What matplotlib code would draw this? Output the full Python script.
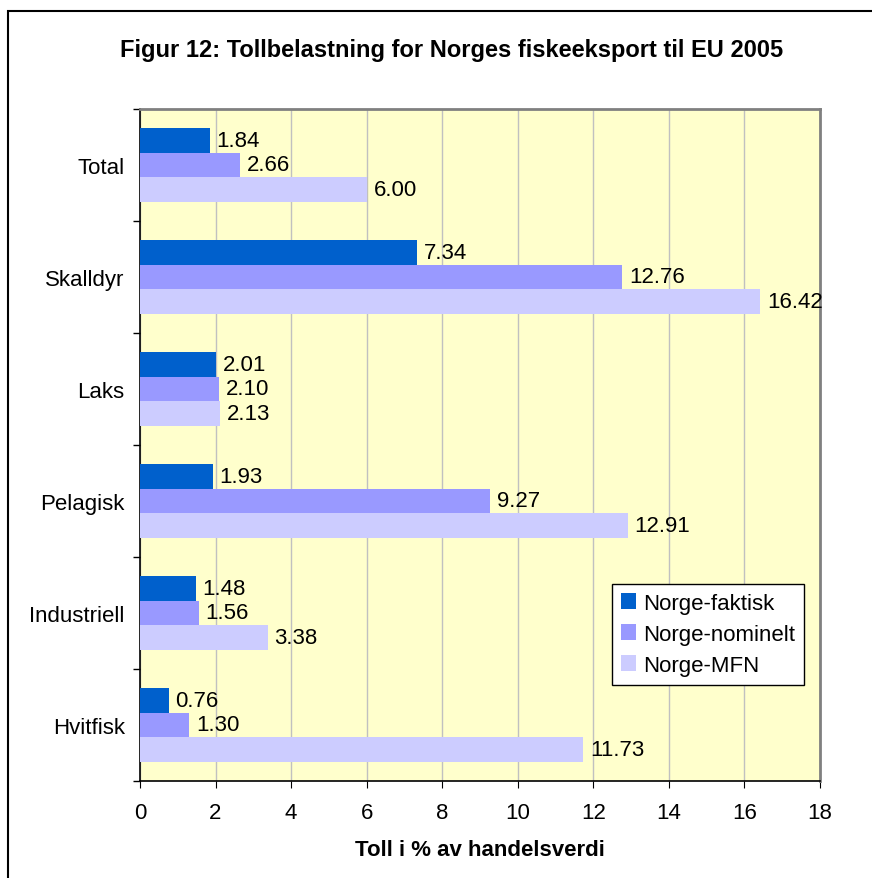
import matplotlib.pyplot as plt
import numpy as np
from matplotlib.patches import Rectangle

plt.rcParams['font.family'] = ['Liberation Sans', 'DejaVu Sans']

categories = ['Total', 'Skalldyr', 'Laks', 'Pelagisk', 'Industriell', 'Hvitfisk']
faktisk = [1.84, 7.34, 2.01, 1.93, 1.48, 0.76]
nominelt = [2.66, 12.76, 2.10, 9.27, 1.56, 1.30]
mfn = [6.00, 16.42, 2.13, 12.91, 3.38, 11.73]
series = [('Norge-faktisk', faktisk, '#0060CC'),
          ('Norge-nominelt', nominelt, '#9999FF'),
          ('Norge-MFN', mfn, '#CCCCFF')]

fs = 16

fig = plt.figure(figsize=(8.72, 8.79), dpi=100)
ax = fig.add_axes([140/872, 1 - 782/879, 680/872, 672/879])
ax.set_facecolor('#FFFFCC')

# outer chart border (runs off the right and bottom edge)
fig.patches.append(Rectangle((8/872, -0.05), 1.0, 1 - 12/879 + 0.05,
                             transform=fig.transFigure, fill=False,
                             edgecolor='black', linewidth=1.5))

y = np.arange(len(categories))
h = 0.223
for i, (name, vals, col) in enumerate(series):
    pos = y + (i - 1) * h
    ax.barh(pos, vals, height=h, color=col, label=name, zorder=3)
    for p, v in zip(pos, vals):
        ax.text(v + 0.18, p, f'{v:.2f}', va='center', ha='left', fontsize=fs, zorder=4)

ax.set_xlim(0, 18)
ax.set_ylim(len(categories) - 0.5, -0.5)
ax.set_xticks(np.arange(0, 19, 2))
ax.set_yticks(y)
ax.set_yticklabels(categories, fontsize=fs)
ax.set_yticks(np.arange(-0.5, len(categories), 1), minor=True)
ax.tick_params(axis='y', which='major', length=0, pad=11)
ax.tick_params(axis='y', which='minor', length=5, width=1, direction='out')
ax.tick_params(axis='x', labelsize=fs, length=5, direction='out', pad=10)
ax.grid(axis='x', color='#C0C0C0', linewidth=1, zorder=0)

for s in ['top', 'right']:
    ax.spines[s].set_color('#808080')
    ax.spines[s].set_linewidth(2)
for s in ['left', 'bottom']:
    ax.spines[s].set_color('black')
    ax.spines[s].set_linewidth(1.2)

ax.set_xlabel('Toll i % av handelsverdi', fontsize=fs, fontweight='bold', labelpad=12)
fig.text(452/872, 1 - 51/879, 'Figur 12: Tollbelastning for Norges fiskeeksport til EU 2005',
         ha='center', va='center', fontsize=17, fontweight='bold')

leg = ax.legend(loc='upper left', bbox_to_anchor=((612 - 140)/680, 1 - (585 - 110)/672),
                fontsize=fs, fancybox=False, framealpha=1, edgecolor='black',
                handlelength=0.7, handleheight=0.7, handletextpad=0.3,
                labelspacing=0.45, borderpad=0.4, borderaxespad=0)
leg.get_frame().set_linewidth(1)

fig.savefig('out.png', dpi=100)
